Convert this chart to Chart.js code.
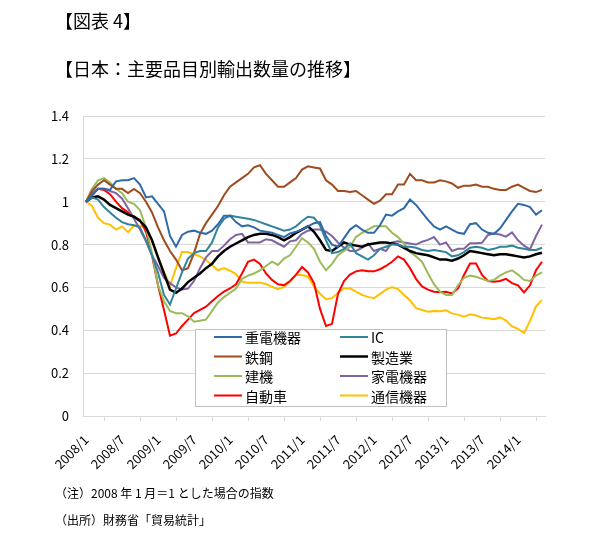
<!DOCTYPE html>
<html>
<head>
<meta charset="utf-8">
<script src="https://cdn.jsdelivr.net/npm/chart.js@4.4.1/dist/chart.umd.min.js"></script>
<style>
  html, body { margin: 0; padding: 0; background: #fff; }
  #wrap { position: relative; width: 600px; height: 540px; font-family: "Noto Sans CJK JP", sans-serif; color: #000; }
  canvas { position: absolute; left: 0; top: 0; }
  .t { position: absolute; white-space: nowrap; }
</style>
</head>
<body>
<div id="wrap">
  <canvas id="grafico" width="600" height="540"></canvas>
  <div class="t" style="left:55px;top:7px;font-size:18px">【図表 4】</div>
  <div class="t" style="left:55px;top:55px;font-size:18px">【日本：主要品目別輸出数量の推移】</div>
  <div class="t" style="left:55px;top:484px;font-size:12px">（注）2008 年 1 月＝1 とした場合の指数</div>
  <div class="t" style="left:55px;top:511px;font-size:12px">（出所）財務省「貿易統計」</div>
</div>
<script>
// 月ラベル（2008/1〜2014/5）
const meses = [
  '2008/1','2008/2','2008/3','2008/4','2008/5','2008/6','2008/7','2008/8','2008/9','2008/10','2008/11','2008/12',
  '2009/1','2009/2','2009/3','2009/4','2009/5','2009/6','2009/7','2009/8','2009/9','2009/10','2009/11','2009/12',
  '2010/1','2010/2','2010/3','2010/4','2010/5','2010/6','2010/7','2010/8','2010/9','2010/10','2010/11','2010/12',
  '2011/1','2011/2','2011/3','2011/4','2011/5','2011/6','2011/7','2011/8','2011/9','2011/10','2011/11','2011/12',
  '2012/1','2012/2','2012/3','2012/4','2012/5','2012/6','2012/7','2012/8','2012/9','2012/10','2012/11','2012/12',
  '2013/1','2013/2','2013/3','2013/4','2013/5','2013/6','2013/7','2013/8','2013/9','2013/10','2013/11','2013/12',
  '2014/1','2014/2','2014/3','2014/4','2014/5'
];

const yTicks = [0, 0.2, 0.4, 0.6, 0.8, 1, 1.2, 1.4];

// 系列データ（2008年1月=1）
const juuden = [1.0,1.03,1.06,1.06,1.055,1.095,1.10,1.10,1.11,1.08,
  1.02,1.025,0.99,0.955,0.84,0.79,0.845,0.86,0.865,0.855,
  0.85,0.865,0.895,0.935,0.935,0.905,0.885,0.89,0.88,0.865,
  0.86,0.855,0.845,0.835,0.852,0.86,0.87,0.885,0.9,0.905,
  0.84,0.80,0.79,0.83,0.87,0.89,0.87,0.855,0.855,0.89,
  0.94,0.935,0.955,0.97,1.01,0.985,0.95,0.915,0.885,0.87,
  0.885,0.87,0.855,0.85,0.895,0.9,0.87,0.855,0.85,0.875,
  0.915,0.955,0.99,0.985,0.975,0.94,0.96];

const ic = [1.0,1.02,1.01,0.975,0.95,0.925,0.905,0.895,0.89,0.88,
  0.82,0.75,0.67,0.565,0.52,0.595,0.67,0.735,0.76,0.77,
  0.77,0.81,0.88,0.92,0.935,0.93,0.925,0.92,0.915,0.905,
  0.895,0.885,0.875,0.865,0.87,0.885,0.91,0.93,0.925,0.89,
  0.82,0.76,0.765,0.78,0.805,0.76,0.745,0.73,0.75,0.78,
  0.79,0.80,0.80,0.79,0.79,0.785,0.775,0.77,0.775,0.77,
  0.765,0.745,0.75,0.765,0.785,0.79,0.785,0.775,0.78,0.79,
  0.79,0.795,0.785,0.78,0.775,0.775,0.785];

const tekkou = [1.0,1.05,1.08,1.10,1.08,1.06,1.06,1.04,1.06,1.04,
  1.0,0.95,0.88,0.82,0.77,0.73,0.68,0.69,0.76,0.85,
  0.90,0.94,0.98,1.03,1.07,1.09,1.11,1.13,1.16,1.17,
  1.13,1.10,1.07,1.07,1.09,1.11,1.15,1.165,1.16,1.155,
  1.10,1.08,1.05,1.05,1.045,1.05,1.03,1.01,0.99,1.005,
  1.035,1.035,1.08,1.08,1.13,1.10,1.10,1.09,1.09,1.10,
  1.095,1.085,1.065,1.075,1.075,1.08,1.07,1.07,1.06,1.055,
  1.055,1.07,1.08,1.065,1.05,1.045,1.055];

const seizou = [1.0,1.02,1.025,1.01,0.985,0.97,0.955,0.94,0.93,0.91,
  0.88,0.82,0.74,0.665,0.59,0.575,0.595,0.625,0.645,0.665,
  0.69,0.71,0.745,0.77,0.79,0.805,0.82,0.835,0.845,0.85,
  0.85,0.845,0.835,0.82,0.835,0.855,0.87,0.885,0.86,0.82,
  0.775,0.77,0.79,0.81,0.80,0.795,0.79,0.80,0.805,0.81,
  0.81,0.805,0.80,0.785,0.77,0.76,0.755,0.75,0.74,0.73,
  0.73,0.725,0.735,0.75,0.77,0.765,0.76,0.755,0.75,0.755,
  0.755,0.75,0.745,0.74,0.745,0.755,0.762];

const kenki = [1.0,1.06,1.10,1.11,1.09,1.06,1.04,1.0,0.99,0.96,
  0.88,0.76,0.61,0.535,0.49,0.48,0.48,0.465,0.44,0.445,
  0.45,0.49,0.53,0.555,0.575,0.595,0.64,0.655,0.665,0.68,
  0.70,0.72,0.705,0.735,0.75,0.79,0.83,0.81,0.78,0.72,
  0.68,0.71,0.75,0.77,0.79,0.835,0.855,0.87,0.885,0.885,
  0.885,0.855,0.835,0.805,0.765,0.745,0.72,0.665,0.615,0.58,
  0.565,0.565,0.61,0.645,0.655,0.65,0.64,0.63,0.635,0.655,
  0.67,0.68,0.66,0.635,0.63,0.655,0.67];

const kaden = [1.0,1.04,1.06,1.06,1.05,1.04,1.015,0.97,0.92,0.87,
  0.815,0.75,0.70,0.645,0.62,0.60,0.59,0.595,0.63,0.69,
  0.74,0.77,0.77,0.795,0.825,0.845,0.85,0.81,0.81,0.81,
  0.825,0.82,0.805,0.79,0.815,0.82,0.85,0.865,0.87,0.87,
  0.86,0.84,0.81,0.785,0.77,0.77,0.785,0.805,0.77,0.78,
  0.77,0.81,0.815,0.81,0.805,0.80,0.813,0.822,0.835,0.80,
  0.81,0.77,0.78,0.78,0.806,0.806,0.808,0.845,0.852,0.847,
  0.837,0.857,0.82,0.795,0.778,0.84,0.893];

const jidousha = [1.0,1.03,1.06,1.055,1.035,1.0,0.97,0.95,0.93,0.915,
  0.86,0.75,0.61,0.495,0.375,0.385,0.42,0.45,0.48,0.495,
  0.51,0.535,0.56,0.58,0.595,0.615,0.665,0.72,0.73,0.71,
  0.665,0.635,0.615,0.61,0.63,0.66,0.695,0.67,0.62,0.50,
  0.42,0.43,0.57,0.63,0.66,0.675,0.68,0.675,0.675,0.685,
  0.70,0.72,0.745,0.73,0.69,0.64,0.605,0.59,0.58,0.577,
  0.58,0.572,0.595,0.658,0.712,0.712,0.658,0.63,0.627,0.63,
  0.64,0.62,0.61,0.577,0.61,0.68,0.72];

const tsuushin = [1.0,0.98,0.925,0.90,0.893,0.87,0.884,0.858,0.889,0.888,
  0.88,0.82,0.745,0.67,0.61,0.69,0.765,0.765,0.755,0.745,
  0.728,0.705,0.68,0.69,0.678,0.662,0.627,0.622,0.622,0.622,
  0.616,0.603,0.592,0.603,0.627,0.658,0.658,0.65,0.605,0.57,
  0.545,0.55,0.575,0.595,0.596,0.58,0.565,0.556,0.55,0.57,
  0.59,0.602,0.592,0.565,0.54,0.503,0.495,0.487,0.49,0.489,
  0.493,0.479,0.473,0.463,0.475,0.469,0.459,0.456,0.452,0.46,
  0.445,0.418,0.407,0.387,0.444,0.512,0.541];

const fonte = '"Noto Sans CJK JP", sans-serif';

function serie(label, data, cor, largura) {
  return { label, data, borderColor: cor, backgroundColor: cor, borderWidth: largura || 2,
           pointRadius: 0, fill: false, tension: 0 };
}

// 凡例（プロット内の枠付き2列）
const legendaCaixa = {
  id: 'legendaCaixa',
  afterDatasetsDraw(chart) {
    const ctx = chart.ctx, a = chart.chartArea;
    const x0 = a.left + 112, y0 = a.top + 213, w = 251, h = 77;
    ctx.save();
    ctx.fillStyle = '#fff';
    ctx.fillRect(x0, y0, w, h);
    ctx.strokeStyle = '#BFBFBF';
    ctx.lineWidth = 1;
    ctx.strokeRect(x0 + 0.5, y0 + 0.5, w, h);
    ctx.font = '14px ' + fonte;
    ctx.textBaseline = 'middle';
    chart.data.datasets.forEach((ds, i) => {
      const col = i % 2, row = Math.floor(i / 2);
      const lx = x0 + 19 + col * 126, ly = y0 + 8 + row * 19.5;
      ctx.strokeStyle = ds.borderColor;
      ctx.lineWidth = ds.borderWidth;
      ctx.beginPath(); ctx.moveTo(lx, ly); ctx.lineTo(lx + 28, ly); ctx.stroke();
      ctx.fillStyle = '#000';
      ctx.fillText(ds.label, lx + 31, ly + 1);
    });
    ctx.restore();
  }
};

new Chart(document.getElementById('grafico'), {
  type: 'line',
  data: {
    labels: meses,
    datasets: [
      serie('重電機器', juuden, '#2E6BA8'),
      serie('IC', ic, '#31849B'),
      serie('鉄鋼', tekkou, '#9E4B1E'),
      serie('製造業', seizou, '#000000', 2.5),
      serie('建機', kenki, '#9BBB59'),
      serie('家電機器', kaden, '#8064A2'),
      serie('自動車', jidousha, '#FF0000'),
      serie('通信機器', tsuushin, '#FFC000')
    ]
  },
  options: {
    responsive: false,
    animation: false,
    layout: { padding: { left: 0, right: 55, top: 116, bottom: 64 } },
    plugins: { legend: { display: false }, tooltip: { enabled: false } },
    scales: {
      x: {
        offset: true,
        grid: { offset: true, drawOnChartArea: false, drawTicks: true, tickLength: 5, color: '#D9D9D9' },
        border: { color: '#D9D9D9' },
        ticks: {
          autoSkip: false, maxRotation: 45, minRotation: 45, padding: 11,
          color: '#000', font: { size: 13, family: fonte },
          callback(v, i) { return i % 6 === 0 ? meses[i] : null; }
        },
        afterFit(s) { s.height = 60; }
      },
      y: {
        min: 0, max: 1.4,
        afterBuildTicks(s) { s.ticks = yTicks.map(v => ({ value: v })); },
        grid: { color: '#D9D9D9', drawTicks: false },
        border: { color: '#D9D9D9' },
        ticks: { padding: 14, color: '#000', font: { size: 13, family: fonte },
                 callback(v) { return String(v); } },
        afterFit(s) { s.width = 83; }
      }
    }
  },
  plugins: [legendaCaixa]
});
</script>
</body>
</html>
